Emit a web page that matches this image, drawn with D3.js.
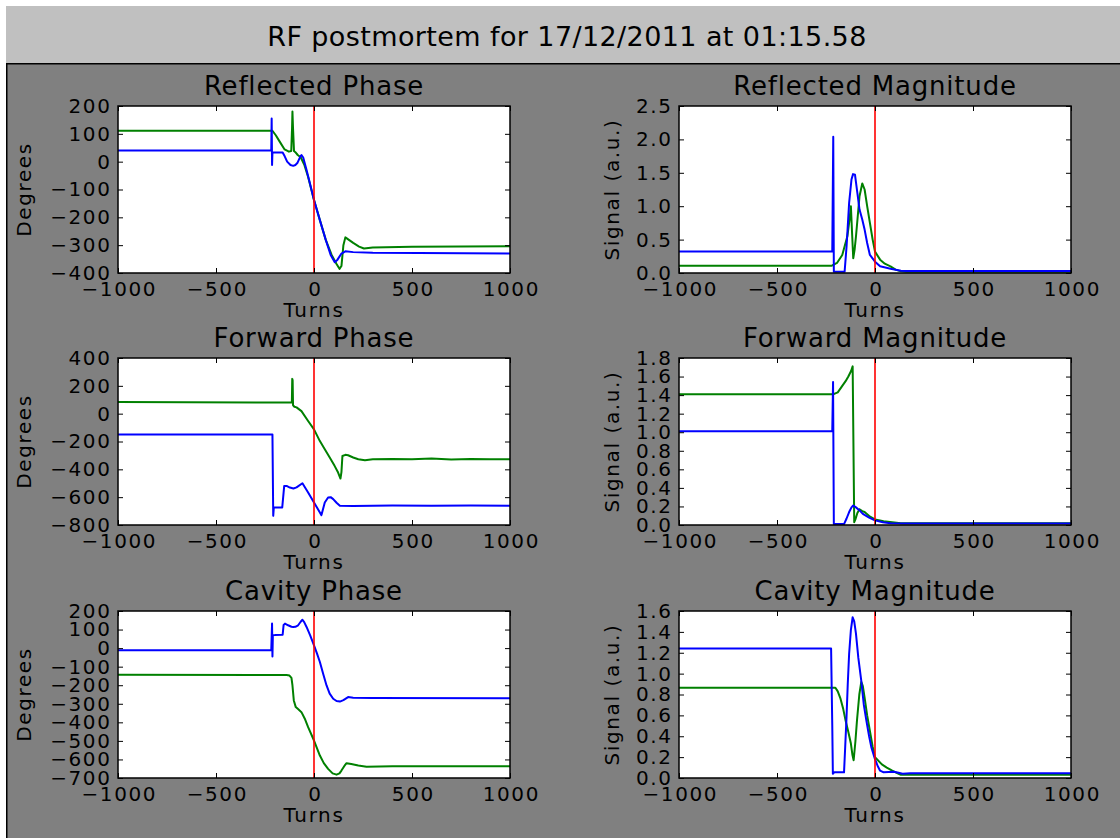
<!DOCTYPE html>
<html>
<head>
<meta charset="utf-8">
<script src="https://cdn.jsdelivr.net/npm/d3@7"></script>
<style>
body { margin: 0; background: #fff; }
svg text { font-family: "DejaVu Sans", sans-serif; fill: #000; }
</style>
</head>
<body>
<svg id="fig" width="1120" height="838"></svg>
<script>
// text
var figTitle = "RF postmortem for 17/12/2011 at 01:15.58";
var xLabel = "Turns";
var xTicks = [-1000, -500, 0, 500, 1000];

// tick values per panel
var reflPhaseTicks = [-400, -300, -200, -100, 0, 100, 200];
var reflMagTicks = [0, 0.5, 1.0, 1.5, 2.0, 2.5];
var fwdPhaseTicks = [-800, -600, -400, -200, 0, 200, 400];
var fwdMagTicks = [0, 0.2, 0.4, 0.6, 0.8, 1.0, 1.2, 1.4, 1.6, 1.8];
var cavPhaseTicks = [-700, -600, -500, -400, -300, -200, -100, 0, 100, 200];
var cavMagTicks = [0, 0.2, 0.4, 0.6, 0.8, 1.0, 1.2, 1.4, 1.6];

// series: [turn, value]
var reflPhaseGreen = [[-1000,111],[-212,111],[-195,95],[-175,72],[-150,44],[-128,36],[-116,38],[-112,120],[-110,180],[-107,120],[-102,38],[-95,34],[-83,24],[-68,16],[-50,-10],[-30,-55],[0,-138],[30,-210],[60,-281],[90,-335],[115,-368],[130,-385],[140,-375],[150,-300],[160,-272],[180,-282],[200,-292],[230,-305],[255,-312],[300,-308],[500,-306],[1000,-304]];
var reflPhaseBlue = [[-1000,40],[-218,40],[-216,155],[-214,-12],[-212,34],[-200,33],[-160,33],[-150,20],[-137,0],[-120,-12],[-106,-15],[-95,-12],[-85,-5],[-70,18],[-64,24],[-55,15],[-38,-30],[-20,-80],[0,-138],[30,-210],[60,-281],[85,-335],[106,-361],[120,-352],[140,-330],[160,-322],[200,-325],[300,-327],[1000,-330]];

var reflMagGreen = [[-1000,0.11],[-220,0.11],[-194,0.15],[-167,0.27],[-141,0.55],[-130,0.8],[-123,1.0],[-117,0.6],[-111,0.22],[-104,0.35],[-97,0.55],[-88,0.85],[-79,1.15],[-65,1.34],[-53,1.25],[-40,1.0],[-26,0.75],[-12,0.5],[0,0.32],[26,0.2],[50,0.14],[79,0.1],[105,0.05],[132,0.025],[160,0.02],[1000,0.02]];
var reflMagBlue = [[-1000,0.32],[-218,0.32],[-213,2.04],[-210,0.02],[-155,0.02],[-145,0.4],[-132,1.05],[-120,1.4],[-112,1.48],[-102,1.47],[-90,1.2],[-79,0.95],[-65,0.8],[-53,0.65],[-40,0.45],[-26,0.27],[0,0.17],[26,0.1],[79,0.065],[132,0.035],[160,0.03],[1000,0.03]];

var fwdPhaseGreen = [[-1000,83],[-113,80],[-111,250],[-109,240],[-107,60],[-100,50],[-89,45],[-64,18],[-30,-53],[0,-113],[30,-197],[55,-255],[81,-316],[105,-375],[123,-423],[135,-466],[140,-420],[145,-304],[160,-296],[174,-299],[200,-315],[226,-328],[260,-335],[300,-328],[400,-325],[500,-328],[600,-322],[700,-330],[800,-325],[900,-328],[1000,-328]];
var fwdPhaseBlue = [[-1000,-149],[-212,-149],[-208,-734],[-205,-674],[-162,-674],[-152,-519],[-140,-519],[-123,-531],[-105,-538],[-89,-530],[-59,-500],[-30,-566],[0,-638],[30,-710],[38,-729],[55,-638],[72,-602],[85,-600],[98,-614],[115,-640],[132,-662],[200,-664],[400,-660],[600,-662],[800,-660],[1000,-662]];

var fwdMagGreen = [[-1000,1.41],[-211,1.41],[-190,1.43],[-167,1.5],[-150,1.55],[-136,1.6],[-122,1.66],[-114,1.71],[-106,0.03],[-100,0.06],[-90,0.13],[-79,0.17],[-65,0.15],[-53,0.14],[-25,0.09],[0,0.06],[44,0.04],[132,0.02],[1000,0.02]];
var fwdMagBlue = [[-1000,1.01],[-218,1.01],[-214,1.54],[-210,0.01],[-158,0.01],[-145,0.07],[-132,0.14],[-120,0.19],[-111,0.21],[-97,0.19],[-80,0.16],[-62,0.12],[-30,0.08],[0,0.05],[40,0.03],[79,0.02],[150,0.015],[1000,0.015]];

var cavPhaseGreen = [[-1000,-144],[-140,-145],[-125,-148],[-115,-160],[-110,-200],[-103,-282],[-93,-318],[-80,-330],[-64,-345],[-45,-385],[-30,-426],[0,-498],[30,-579],[50,-620],[72,-651],[95,-675],[115,-682],[130,-675],[140,-660],[155,-635],[166,-620],[190,-625],[226,-633],[268,-639],[400,-637],[1000,-637]];
var cavPhaseBlue = [[-1000,-12],[-218,-12],[-214,132],[-212,-45],[-210,69],[-200,70],[-160,72],[-155,125],[-148,132],[-132,123],[-115,115],[-106,114],[-95,115],[-81,123],[-68,142],[-59,153],[-50,140],[-38,114],[-20,70],[0,15],[15,-28],[30,-75],[47,-140],[64,-201],[80,-245],[98,-273],[115,-285],[132,-288],[150,-280],[174,-264],[200,-267],[300,-269],[1000,-270]];

var cavMagGreen = [[-1000,0.864],[-202,0.864],[-190,0.83],[-176,0.76],[-162,0.66],[-150,0.55],[-136,0.44],[-123,0.33],[-115,0.22],[-109,0.17],[-100,0.35],[-92,0.55],[-80,0.8],[-70,0.92],[-62,0.88],[-53,0.77],[-40,0.6],[-26,0.45],[-12,0.3],[0,0.2],[35,0.13],[60,0.1],[88,0.07],[110,0.05],[132,0.03],[160,0.03],[1000,0.03]];
var cavMagBlue = [[-1000,1.24],[-224,1.24],[-218,0.5],[-215,0.04],[-208,0.054],[-158,0.054],[-152,0.3],[-146,0.55],[-139,0.9],[-132,1.19],[-123,1.42],[-114,1.54],[-106,1.5],[-97,1.38],[-85,1.15],[-70,0.93],[-57,0.7],[-44,0.55],[-30,0.4],[-18,0.29],[0,0.18],[15,0.11],[26,0.07],[44,0.054],[97,0.06],[120,0.05],[141,0.04],[180,0.045],[1000,0.045]];

// panels, built from the arrays above
var panels = [
  {title: "Reflected Phase", ylabel: "Degrees", ticks: reflPhaseTicks, fmt: d3.format("d"), green: reflPhaseGreen, blue: reflPhaseBlue, col: 0, row: 0},
  {title: "Reflected Magnitude", ylabel: "Signal (a.u.)", ticks: reflMagTicks, fmt: d3.format(".1f"), green: reflMagGreen, blue: reflMagBlue, col: 1, row: 0},
  {title: "Forward Phase", ylabel: "Degrees", ticks: fwdPhaseTicks, fmt: d3.format("d"), green: fwdPhaseGreen, blue: fwdPhaseBlue, col: 0, row: 1},
  {title: "Forward Magnitude", ylabel: "Signal (a.u.)", ticks: fwdMagTicks, fmt: d3.format(".1f"), green: fwdMagGreen, blue: fwdMagBlue, col: 1, row: 1},
  {title: "Cavity Phase", ylabel: "Degrees", ticks: cavPhaseTicks, fmt: d3.format("d"), green: cavPhaseGreen, blue: cavPhaseBlue, col: 0, row: 2},
  {title: "Cavity Magnitude", ylabel: "Signal (a.u.)", ticks: cavMagTicks, fmt: d3.format(".1f"), green: cavMagGreen, blue: cavMagBlue, col: 1, row: 2}
];

// layout
var colX = [118, 679], rowY = [106, 358, 611];
var axW = 392, axH = 167;
var ylabOffset = [87.5, 60.5];
var tickFont = "20px", tickSpace = "1.6px";

var svg = d3.select("#fig");

// title bar + figure background
svg.append("rect").attr("x", 6).attr("y", 6).attr("width", 1114).attr("height", 57).attr("fill", "#c0c0c0");
svg.append("rect").attr("x", 6).attr("y", 63).attr("width", 1114).attr("height", 775).attr("fill", "#808080");
svg.append("path").attr("d", "M6.75,838V63.75H1120").attr("fill", "none").attr("stroke", "#000").attr("stroke-width", 1.5);

svg.append("text")
  .attr("x", 567).attr("y", 46)
  .attr("text-anchor", "middle")
  .style("font-size", "27px").style("letter-spacing", "0.4px")
  .text(figTitle);

var x = d3.scaleLinear().domain([-1000, 1000]).range([0, axW]);

panels.forEach(function(p, i) {
  var g = svg.append("g").attr("transform", "translate(" + colX[p.col] + "," + rowY[p.row] + ")");
  var y = d3.scaleLinear().domain(d3.extent(p.ticks)).range([axH, 0]);

  g.append("rect").attr("width", axW).attr("height", axH).attr("fill", "#fff");

  g.append("clipPath").attr("id", "clip" + i)
    .append("rect").attr("width", axW).attr("height", axH);

  var line = d3.line()
    .x(function(d) { return x(d[0]); })
    .y(function(d) { return y(d[1]); });

  var plot = g.append("g").attr("clip-path", "url(#clip" + i + ")");
  plot.append("path").datum(p.green).attr("d", line)
    .attr("fill", "none").attr("stroke", "#008000").attr("stroke-width", 2).attr("stroke-linejoin", "round");
  plot.append("path").datum(p.blue).attr("d", line)
    .attr("fill", "none").attr("stroke", "#0000ff").attr("stroke-width", 2).attr("stroke-linejoin", "round");
  plot.append("line")
    .attr("x1", x(0)).attr("x2", x(0)).attr("y1", 0).attr("y2", axH)
    .attr("stroke", "#ff0000").attr("stroke-width", 1.6);

  // ticks on all four sides, pointing in
  var xb = g.append("g").attr("transform", "translate(0," + axH + ")")
    .call(d3.axisBottom(x).tickValues(xTicks).tickFormat(d3.format("d")).tickSizeInner(-5).tickSizeOuter(0));
  xb.selectAll("text").attr("y", 23).attr("dy", null).attr("dx", "0.8px")
    .style("font-size", tickFont).style("letter-spacing", tickSpace);
  g.append("g").call(d3.axisTop(x).tickValues(xTicks).tickSizeInner(-5).tickSizeOuter(0).tickFormat(""));

  var yl = g.append("g")
    .call(d3.axisLeft(y).tickValues(p.ticks).tickFormat(p.fmt).tickSizeInner(-5).tickSizeOuter(0).tickPadding(6.5));
  yl.selectAll("text").style("font-size", tickFont).style("letter-spacing", tickSpace);
  g.append("g").attr("transform", "translate(" + axW + ",0)")
    .call(d3.axisRight(y).tickValues(p.ticks).tickSizeInner(-5).tickSizeOuter(0).tickFormat(""));

  g.selectAll(".domain").remove();
  g.selectAll(".tick line").attr("stroke", "#000");
  g.selectAll(".tick text").attr("fill", "#000").style("font-family", "'DejaVu Sans', sans-serif");

  g.append("rect").attr("width", axW).attr("height", axH)
    .attr("fill", "none").attr("stroke", "#000").attr("stroke-width", 1.5);

  g.append("text")
    .attr("x", axW / 2).attr("y", -11)
    .attr("text-anchor", "middle")
    .style("font-size", "26px").style("letter-spacing", "0.8px")
    .text(p.title);

  g.append("text")
    .attr("x", axW / 2).attr("y", axH + 44)
    .attr("text-anchor", "middle")
    .style("font-size", tickFont).style("letter-spacing", tickSpace)
    .text(xLabel);

  g.append("text")
    .attr("transform", "translate(" + (-ylabOffset[p.col]) + "," + (axH / 2) + ") rotate(-90)")
    .attr("text-anchor", "middle")
    .style("font-size", tickFont).style("letter-spacing", tickSpace)
    .text(p.ylabel);
});
</script>
</body>
</html>
